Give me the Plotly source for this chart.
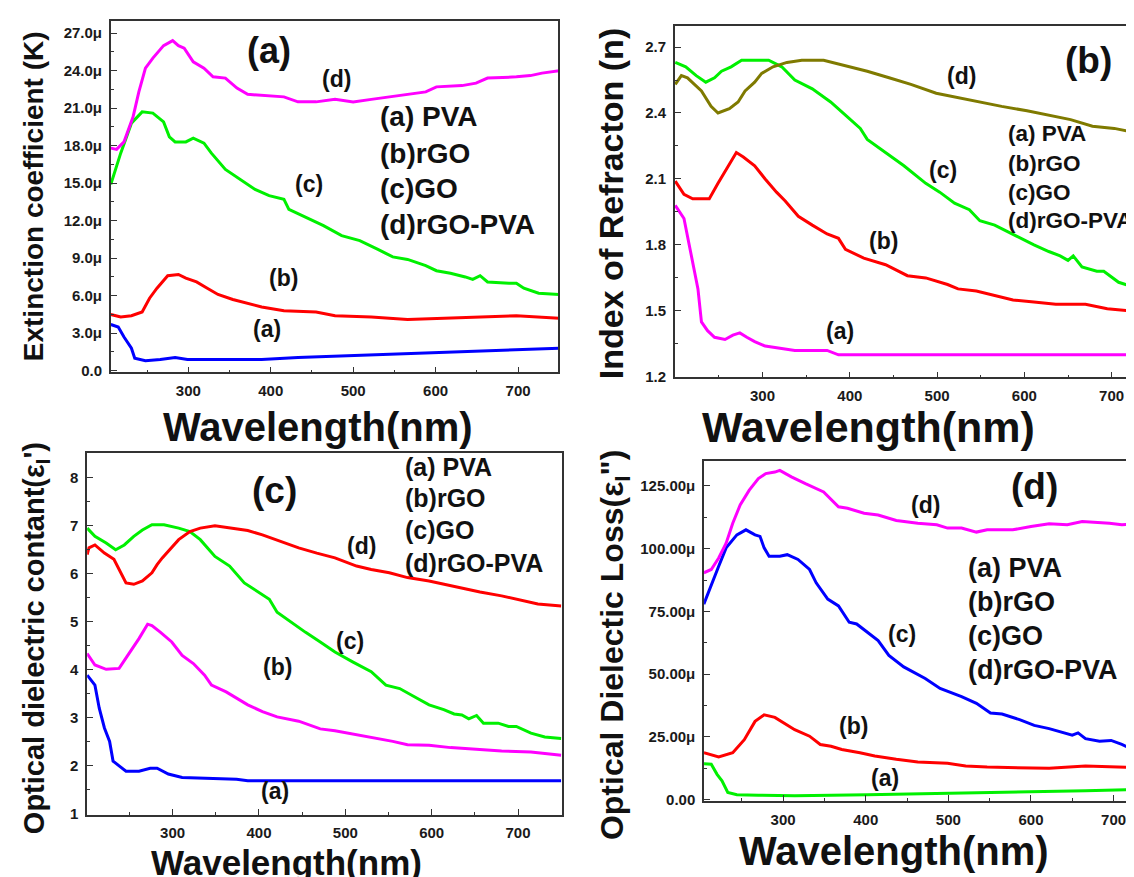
import plotly.graph_objects as go

# ---------------- Panel (a): extinction coefficient K (units of 1e-6) ----------------
A_PVA_WL = [206, 215, 222, 231, 235, 248, 266, 284, 299, 345, 389, 433, 478, 522, 566, 610, 654, 698, 750]
A_PVA_K = [3.7, 3.5, 2.7, 1.8, 1.0, 0.8, 0.9, 1.05, 0.9, 0.9, 0.9, 1.05, 1.15, 1.3, 1.4, 1.5, 1.6, 1.65, 1.8]
A_RGO_WL = [206, 218, 231, 244, 253, 262, 275, 288, 297, 310, 323, 336, 354, 372, 389, 416, 455, 478, 522, 566, 610, 654, 698, 750]
A_RGO_K = [4.5, 4.3, 4.4, 4.7, 5.8, 6.6, 7.6, 7.7, 7.4, 7.1, 6.6, 6.1, 5.7, 5.4, 5.1, 4.8, 4.7, 4.4, 4.3, 4.1, 4.2, 4.3, 4.4, 4.2]
A_GO_WL = [206, 218, 231, 244, 257, 270, 277, 284, 297, 306, 319, 328, 345, 363, 381, 398, 416, 422, 442, 464,
           486, 508, 530, 548, 566, 588, 601, 618, 636, 645, 654, 663, 689, 698, 707, 725, 750]
A_GO_K = [14.9, 17.4, 19.8, 20.7, 20.6, 19.9, 18.7, 18.3, 18.3, 18.6, 18.2, 17.4, 16.1, 15.3, 14.5, 14.0, 13.7, 12.9, 12.3, 11.6,
          10.8, 10.4, 9.7, 9.1, 8.9, 8.4, 8.0, 7.8, 7.5, 7.3, 7.6, 7.1, 7.0, 7.0, 6.6, 6.2, 6.1]
A_MIX_WL = [206, 213, 222, 233, 240, 248, 257, 270, 281, 288, 295, 306, 319, 330, 345, 359, 372, 389, 416, 433,
            455, 478, 500, 522, 544, 566, 588, 601, 632, 649, 663, 698, 715, 729, 750]
A_MIX_K = [17.8, 17.7, 18.3, 20.3, 22.3, 24.2, 25.0, 26.0, 26.4, 26.0, 25.8, 24.7, 24.2, 23.5, 23.4, 22.6, 22.1, 22.0, 21.9, 21.5,
           21.5, 21.7, 21.5, 21.7, 21.9, 22.1, 22.3, 22.7, 22.8, 23.0, 23.4, 23.5, 23.6, 23.8, 24.0]
A_TICKS = [0, 3, 6, 9, 12, 15, 18, 21, 24, 27]
A_TICKTEXT = ["0.0", "3.0μ", "6.0μ", "9.0μ", "12.0μ", "15.0μ", "18.0μ", "21.0μ", "24.0μ", "27.0μ"]

# ---------------- Panel (b): refractive index n ----------------
B_PVA_WL = [200, 210, 216, 222, 226, 230, 237, 245, 257, 266, 274, 282, 291, 303, 320, 337, 374, 387, 750]
B_PVA_N = [1.98, 1.92, 1.80, 1.68, 1.60, 1.45, 1.41, 1.38, 1.37, 1.39, 1.40, 1.38, 1.36, 1.34, 1.33, 1.32, 1.32, 1.30, 1.30]
B_RGO_WL = [200, 210, 220, 239, 249, 262, 270, 278, 291, 303, 316, 326, 341, 357, 374, 387, 395, 416, 441, 466,
            487, 512, 524, 545, 566, 587, 611, 636, 670, 695, 720, 750]
B_RGO_N = [2.09, 2.03, 2.01, 2.01, 2.08, 2.17, 2.22, 2.20, 2.16, 2.10, 2.04, 2.00, 1.93, 1.89, 1.85, 1.83, 1.78, 1.74, 1.71, 1.66,
           1.65, 1.62, 1.60, 1.59, 1.57, 1.55, 1.54, 1.53, 1.53, 1.51, 1.50, 1.49]
B_GO_WL = [200, 212, 224, 235, 245, 253, 264, 276, 287, 307, 322, 337, 357, 378, 395, 412, 420, 441, 462, 487,
           503, 520, 537, 549, 566, 591, 611, 628, 641, 650, 656, 666, 683, 691, 708, 724, 741, 750]
B_GO_N = [2.63, 2.61, 2.57, 2.54, 2.56, 2.59, 2.61, 2.64, 2.64, 2.64, 2.61, 2.55, 2.51, 2.45, 2.39, 2.33, 2.28, 2.22, 2.16, 2.08,
          2.04, 1.99, 1.96, 1.91, 1.89, 1.84, 1.80, 1.77, 1.75, 1.73, 1.75, 1.70, 1.68, 1.68, 1.63, 1.61, 1.60, 1.59]
B_MIX_WL = [200, 207, 214, 230, 241, 249, 262, 272, 280, 291, 299, 312, 328, 345, 370, 399, 420, 445, 470, 499,
            524, 545, 574, 603, 628, 653, 678, 703, 728, 750]
B_MIX_N = [2.53, 2.57, 2.56, 2.50, 2.43, 2.40, 2.42, 2.45, 2.50, 2.54, 2.58, 2.61, 2.63, 2.64, 2.64, 2.61, 2.59, 2.56, 2.53, 2.49,
           2.47, 2.45, 2.43, 2.41, 2.39, 2.37, 2.34, 2.33, 2.31, 2.29]
B_TICKS = [1.2, 1.5, 1.8, 2.1, 2.4, 2.7]

# ---------------- Panel (c): optical dielectric constant eps' ----------------
C_PVA_WL = [201, 210, 215, 221, 227, 231, 238, 246, 261, 274, 282, 295, 311, 341, 374, 387, 750]
C_PVA_E = [3.89, 3.68, 3.20, 2.79, 2.51, 2.10, 2.00, 1.89, 1.89, 1.95, 1.95, 1.83, 1.76, 1.74, 1.72, 1.69, 1.69]
C_RGO_WL = [201, 210, 223, 238, 248, 261, 271, 276, 286, 299, 311, 324, 337, 345, 362, 374, 387, 404, 421, 446,
            471, 488, 513, 530, 555, 572, 597, 622, 656, 681, 715, 750]
C_RGO_E = [4.34, 4.10, 4.01, 4.03, 4.30, 4.65, 4.95, 4.92, 4.78, 4.58, 4.30, 4.13, 3.89, 3.68, 3.54, 3.41, 3.27, 3.13, 3.02, 2.93,
           2.77, 2.73, 2.65, 2.58, 2.51, 2.44, 2.43, 2.38, 2.34, 2.31, 2.29, 2.22]
C_GO_WL = [201, 210, 223, 234, 244, 255, 265, 276, 290, 307, 320, 332, 349, 366, 383, 400, 412, 421, 437, 454,
           471, 488, 509, 530, 547, 563, 580, 597, 614, 626, 635, 643, 652, 660, 677, 689, 698, 715, 731, 750]
C_GO_E = [6.95, 6.78, 6.64, 6.50, 6.60, 6.78, 6.91, 7.02, 7.02, 6.95, 6.88, 6.71, 6.36, 6.16, 5.81, 5.61, 5.47, 5.20, 4.99, 4.78,
          4.58, 4.37, 4.16, 3.96, 3.68, 3.61, 3.44, 3.27, 3.17, 3.08, 3.06, 2.98, 3.05, 2.89, 2.89, 2.82, 2.82, 2.68, 2.60, 2.57]
C_MIX_WL = [201, 203, 210, 221, 232, 240, 246, 255, 265, 276, 282, 288, 295, 307, 320, 332, 349, 370, 387, 404,
            425, 446, 467, 488, 513, 530, 551, 572, 597, 614, 639, 656, 681, 706, 723, 750]
C_MIX_E = [6.40, 6.54, 6.60, 6.43, 6.30, 6.02, 5.81, 5.78, 5.85, 6.02, 6.19, 6.33, 6.47, 6.71, 6.88, 6.95, 7.00, 6.95, 6.90, 6.81,
           6.67, 6.54, 6.43, 6.33, 6.16, 6.09, 6.02, 5.92, 5.85, 5.78, 5.68, 5.62, 5.54, 5.44, 5.37, 5.33]
C_TICKS = [1, 2, 3, 4, 5, 6, 7, 8]

# ---------------- Panel (d): optical dielectric loss eps'' (units of 1e-6) ----------------
D_PVA_WL = [204, 213, 220, 226, 233, 244, 270, 314, 402, 490, 578, 622, 666, 750]
D_PVA_E = [14.3, 14.1, 10.1, 7.5, 2.9, 2.0, 1.8, 1.6, 2.0, 2.5, 2.9, 3.3, 3.6, 4.3]
D_RGO_WL = [204, 222, 239, 253, 266, 277, 290, 301, 314, 332, 345, 358, 371, 393, 411, 437, 463, 499, 521, 547,
            578, 600, 622, 666, 710, 750]
D_RGO_E = [18.7, 17.0, 18.7, 23.9, 31.2, 33.8, 32.8, 30.5, 27.9, 25.3, 22.0, 21.3, 20.0, 18.7, 17.4, 16.1, 15.0, 14.5, 13.4, 13.0,
           12.8, 12.5, 12.5, 13.4, 12.8, 12.5]
D_GO_WL = [204, 213, 222, 231, 244, 255, 266, 272, 277, 283, 296, 305, 318, 332, 340, 354, 367, 380, 389, 402,
           415, 428, 446, 472, 490, 516, 534, 551, 565, 587, 604, 622, 639, 650, 657, 666, 683, 697, 710, 723, 750]
D_GO_E = [77.9, 85.1, 93.0, 100.3, 105.5, 107.5, 105.5, 104.9, 100.3, 97.0, 97.0, 97.6, 95.7, 91.7, 86.4, 79.9, 77.2, 70.7, 70.0, 66.7,
          63.4, 57.5, 52.9, 48.3, 44.3, 41.1, 38.4, 34.5, 34.1, 31.8, 29.6, 28.3, 26.6, 25.7, 26.6, 24.3, 23.3, 23.6, 22.0, 20.0, 19.6]
D_MIX_WL = [204, 213, 222, 231, 239, 248, 259, 270, 279, 290, 296, 310, 327, 349, 367, 378, 398, 415, 437, 463,
            486, 499, 516, 534, 547, 578, 600, 622, 644, 662, 695, 710, 750]
D_MIX_E = [90.4, 91.7, 96.3, 102.2, 110.1, 117.4, 123.3, 127.9, 129.9, 130.5, 131.2, 128.6, 125.9, 122.6, 116.7, 116.1, 114.1, 113.4, 111.2, 110.1,
           109.5, 108.2, 108.2, 106.6, 107.5, 107.5, 108.8, 109.9, 109.5, 110.8, 110.1, 109.5, 110.6]
D_TICKS = [0, 25, 50, 75, 100, 125]
D_TICKTEXT = ["0.00", "25.00μ", "50.00μ", "75.00μ", "100.00μ", "125.00μ"]

X_TICKS = [300, 400, 500, 600, 700]
LEGEND_LINES = ["(a) PVA", "(b)rGO", "(c)GO", "(d)rGO-PVA"]

BLUE, RED, GREEN, MAGENTA, OLIVE = "#0000FF", "#FF0000", "#00F000", "#FF00FF", "#7F7A00"
W, H = 1134, 877
ARIAL = "Liberation Sans, Arial, sans-serif"

fig = go.Figure()


def add(xs, ys, color, n):
    xa = "x" if n == 1 else f"x{n}"
    ya = "y" if n == 1 else f"y{n}"
    fig.add_trace(go.Scatter(x=xs, y=ys, mode="lines", line=dict(color=color, width=3),
                             xaxis=xa, yaxis=ya, showlegend=False, hoverinfo="skip"))


add(A_PVA_WL, A_PVA_K, BLUE, 1)
add(A_RGO_WL, A_RGO_K, RED, 1)
add(A_GO_WL, A_GO_K, GREEN, 1)
add(A_MIX_WL, A_MIX_K, MAGENTA, 1)

add(B_PVA_WL, B_PVA_N, MAGENTA, 2)
add(B_RGO_WL, B_RGO_N, RED, 2)
add(B_GO_WL, B_GO_N, GREEN, 2)
add(B_MIX_WL, B_MIX_N, OLIVE, 2)

add(C_PVA_WL, C_PVA_E, BLUE, 3)
add(C_RGO_WL, C_RGO_E, MAGENTA, 3)
add(C_GO_WL, C_GO_E, GREEN, 3)
add(C_MIX_WL, C_MIX_E, RED, 3)

add(D_PVA_WL, D_PVA_E, GREEN, 4)
add(D_RGO_WL, D_RGO_E, RED, 4)
add(D_GO_WL, D_GO_E, BLUE, 4)
add(D_MIX_WL, D_MIX_E, MAGENTA, 4)


def px_x(p):
    return p / W


def px_y(p):
    return 1 - p / H


tickfont = dict(family=ARIAL, size=15, color="#1a1a1a", weight="bold")
common = dict(showline=True, linecolor="#333333", linewidth=1.6, mirror=True,
              ticks="inside", ticklen=6, tickwidth=1.4, tickcolor="#333333",
              showgrid=False, zeroline=False, tickfont=tickfont, ticklabelstandoff=4)


def xax(lo_px, hi_px, rng, anchor):
    return dict(domain=[px_x(lo_px), min(1.0, px_x(hi_px))], range=rng, anchor=anchor,
                tickmode="array", tickvals=X_TICKS, ticktext=[str(v) for v in X_TICKS],
                minor=dict(ticks="inside", ticklen=3, tickwidth=1.2, tickcolor="#333333", dtick=50, tick0=250),
                **common)


def yax(top_px, bot_px, rng, anchor, tickvals, ticktext, minor_dtick, minor_tick0):
    return dict(domain=[px_y(bot_px), px_y(top_px)], range=rng, anchor=anchor,
                tickmode="array", tickvals=tickvals, ticktext=ticktext,
                minor=dict(ticks="inside", ticklen=3, tickwidth=1.2, tickcolor="#333333",
                           dtick=minor_dtick, tick0=minor_tick0),
                **common)


fig.update_layout(
    width=W, height=H, margin=dict(l=0, r=0, t=0, b=0),
    paper_bgcolor="white", plot_bgcolor="white",
    xaxis=xax(103, 551, [206, 748.5], "y"),
    yaxis=yax(12.7, 367.7, [-0.13, 28.0], "x", A_TICKS, A_TICKTEXT, 1.5, 0),
    xaxis2=xax(668, 1134, [199.5, 732.5], "y2"),
    yaxis2=yax(18.3, 372.7, [1.198, 2.795], "x2", B_TICKS, [f"{v:.1f}" for v in B_TICKS], 0.15, 1.2),
    xaxis3=xax(79.3, 554.5, [201, 750.4], "y3"),
    yaxis3=yax(449.3, 814, [0.986, 8.51], "x3", C_TICKS, [str(v) for v in C_TICKS], 0.5, 1),
    xaxis4=xax(697.3, 1134, [204.3, 732], "y4"),
    yaxis4=yax(456.7, 800, [-0.4, 135.1], "x4", D_TICKS, D_TICKTEXT, 12.5, 0),
)

ann = []


def txt(text, x, y, size, xref="paper", yref="paper", xanchor="center", angle=0, yanchor="middle"):
    ann.append(dict(text=text, x=x, y=y, xref=xref, yref=yref, showarrow=False,
                    xanchor=xanchor, yanchor=yanchor, textangle=angle,
                    font=dict(family=ARIAL, size=size, color="#111111", weight="bold")))


# Axis titles (paper coordinates from pixel positions)
txt("Wavelength(nm)", px_x(311), px_y(423), 40)
txt("Wavelength(nm)", px_x(862), px_y(423), 43)
txt("Wavelength(nm)", px_x(279), px_y(862), 35)
txt("Wavelength(nm)", px_x(888), px_y(851), 40)
txt("Extinction coefficient (K)", px_x(25), px_y(190), 28, angle=-90)
txt("Index of Refracton (n)", px_x(604), px_y(197), 34, angle=-90)
txt("Optical dielectric contant(ε<sub>I</sub>')", px_x(28), px_y(636), 29, angle=-90)
txt("Optical Dielectic Loss(ε<sub>I</sub>\")", px_x(607), px_y(643), 32, angle=-90)

# Panel (a)
txt("(a)", 398, 25.6, 36, "x", "y")
txt("(d)", 480, 23.3, 23, "x", "y")
txt("(c)", 447, 14.9, 23, "x", "y")
txt("(b)", 416, 7.4, 23, "x", "y")
txt("(a)", 396, 3.3, 23, "x", "y")
for t, yv in zip(LEGEND_LINES, [20.3, 17.4, 14.6, 11.7]):
    txt(t, 530, yv, 28, "x", "y", xanchor="left")

# Panel (b)
txt("(b)", 674, 2.637, 37, "x2", "y2")
txt("(d)", 528, 2.57, 23, "x2", "y2")
txt("(c)", 507, 2.14, 23, "x2", "y2")
txt("(b)", 439, 1.82, 23, "x2", "y2")
txt("(a)", 389, 1.41, 23, "x2", "y2")
for t, yv in zip(LEGEND_LINES, [2.307, 2.17, 2.04, 1.91]):
    txt(t, 579, yv, 22.5, "x2", "y2", xanchor="left")

# Panel (c)
txt("(c)", 418, 7.74, 37, "x3", "y3")
txt("(d)", 519, 6.57, 23, "x3", "y3")
txt("(c)", 505, 4.61, 23, "x3", "y3")
txt("(b)", 421, 4.06, 23, "x3", "y3")
txt("(a)", 418, 1.48, 23, "x3", "y3")
for t, yv in zip(LEGEND_LINES, [8.22, 7.57, 6.91, 6.23]):
    txt(t, 567, yv, 25, "x3", "y3", xanchor="left")

# Panel (d)
txt("(d)", 604, 124.6, 37, "x4", "y4")
txt("(d)", 472, 117.4, 23, "x4", "y4")
txt("(c)", 444, 66.0, 23, "x4", "y4")
txt("(b)", 385, 29.2, 23, "x4", "y4")
txt("(a)", 423, 8.8, 23, "x4", "y4")
for t, yv in zip(LEGEND_LINES, [92.4, 78.8, 65.1, 51.6]):
    txt(t, 521, yv, 27, "x4", "y4", xanchor="left")

fig.update_layout(annotations=ann)
fig.write_html("out.html")
